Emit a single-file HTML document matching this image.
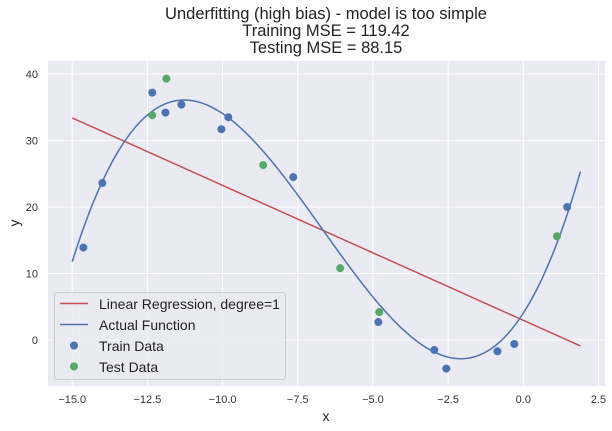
<!DOCTYPE html>
<html><head><meta charset="utf-8"><style>
body{margin:0;background:#fff;}
svg{display:block;font-family:"Liberation Sans",sans-serif;}
</style></head><body>
<svg id="chart" width="612" height="431">
<rect x="48" y="61" width="557" height="325" fill="#eaeaf2"/>
<g id="grid"></g>
<g id="marks"></g>
<g id="ticks" font-size="11" fill="#333"></g>
<text x="326" y="19" font-size="16.5" text-anchor="middle" fill="#222">Underfitting (high bias) - model is too simple</text>
<text x="326" y="36" font-size="16.5" text-anchor="middle" fill="#222">Training MSE = 119.42</text>
<text x="326" y="53" font-size="16.5" text-anchor="middle" fill="#222">Testing MSE = 88.15</text>
<text x="326" y="421" font-size="14" text-anchor="middle" fill="#222">x</text>
<text x="19" y="223" font-size="14" text-anchor="middle" fill="#222" transform="rotate(-90 19 223)">y</text>
<g>
<rect x="54.5" y="292.5" width="231" height="87" rx="3" fill="#eaeaf2" fill-opacity="0.8" stroke="#ccc"/>
<line x1="60" y1="303.5" x2="88" y2="303.5" stroke="#c44e52" stroke-width="1.5"/>
<text x="99" y="309" font-size="14" fill="#222">Linear Regression, degree=1</text>
<line x1="60" y1="324.5" x2="88" y2="324.5" stroke="#4c72b0" stroke-width="1.5"/>
<text x="99" y="330" font-size="14" fill="#222">Actual Function</text>
<circle cx="74" cy="345.5" r="4" fill="#4c72b0"/>
<text x="99" y="351" font-size="14" fill="#222">Train Data</text>
<circle cx="74" cy="366.5" r="4" fill="#55a868"/>
<text x="99" y="372" font-size="14" fill="#222">Test Data</text>
</g>
</svg>
<script>
const xTicks = [-15.0, -12.5, -10.0, -7.5, -5.0, -2.5, 0.0, 2.5];
const yTicks = [0, 10, 20, 30, 40];
const trainX = [-14.63, -14.0, -12.34, -11.9, -11.37, -10.04, -9.81, -7.65, -4.82, -2.96, -2.56, -0.86, -0.3, 1.46];
const trainY = [13.9, 23.6, 37.2, 34.2, 35.4, 31.7, 33.5, 24.5, 2.7, -1.5, -4.3, -1.7, -0.6, 20.0];
const testX = [-11.87, -12.34, -8.65, -6.09, -4.79, 1.12];
const testY = [39.3, 33.8, 26.3, 10.8, 4.2, 15.6];
const linearX = [-15, 1.9];
const linearY = [33.4, -0.9];
// actual function: cubic coefficients [c3, c2, c1, c0]
const actualCoef = [0.1000, 2.0032, 7.0317, 4.043];
const actualRange = [-15, 1.9];

const X = v => 523.3 + v * 30.07;
const Y = v => 340 - v * 6.65;
const NS = "http://www.w3.org/2000/svg";
function mk(tag, attrs, parent){const e=document.createElementNS(NS,tag);for(const k in attrs)e.setAttribute(k,attrs[k]);parent.appendChild(e);return e;}
const grid=document.getElementById('grid'), marks=document.getElementById('marks'), ticks=document.getElementById('ticks');
xTicks.forEach(t=>{
  const l=mk('line',{x1:X(t),x2:X(t),y1:61,y2:386,stroke:'#fff','stroke-width':1},grid);
  
  
  const s=mk('text',{x:X(t),y:403,'text-anchor':'middle'},ticks);
  s.textContent=(t<0?'\u2212':'')+Math.abs(t).toFixed(1);
  
  
});
yTicks.forEach(t=>{
  const l=mk('line',{x1:48,x2:605,y1:Y(t),y2:Y(t),stroke:'#fff','stroke-width':1},grid);
  
  
  const s=mk('text',{x:38,y:Y(t)+4,'text-anchor':'end'},ticks);
  s.textContent=String(t);
  
  
});
const lin=mk('line',{x1:X(linearX[0]),y1:Y(linearY[0]),x2:X(linearX[1]),y2:Y(linearY[1]),stroke:'#c44e52','stroke-width':1.5},marks);


let d='';
for(let i=0;i<=200;i++){
  const x=actualRange[0]+(actualRange[1]-actualRange[0])*i/200;
  const y=((actualCoef[0]*x+actualCoef[1])*x+actualCoef[2])*x+actualCoef[3];
  d+=(i?'L':'M')+X(x).toFixed(2)+','+Y(y).toFixed(2);
}
const act=mk('path',{d:d,fill:'none',stroke:'#4c72b0','stroke-width':1.5},marks);


trainX.forEach((x,i)=>{
  const c=mk('circle',{cx:X(x),cy:Y(trainY[i]),r:4,fill:'#4c72b0'},marks);
  
  
});
testX.forEach((x,i)=>{
  const c=mk('circle',{cx:X(x),cy:Y(testY[i]),r:4,fill:'#55a868'},marks);
  
  
});
</script>
</body></html>
